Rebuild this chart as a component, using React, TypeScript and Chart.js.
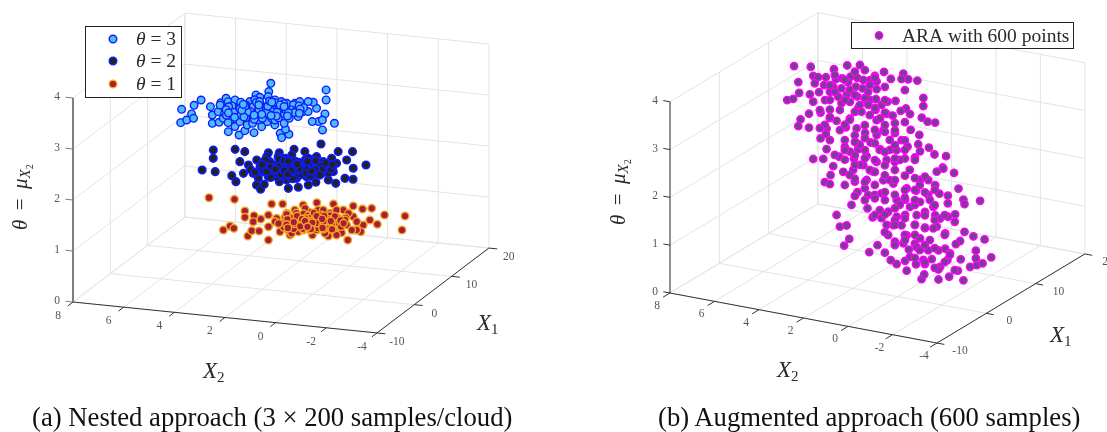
import React, { useEffect, useRef } from "react";
import { Chart, registerables } from "chart.js";

Chart.register(...registerables);

// Axis ticks
const x2Ticks = [8, 6, 4, 2, 0, -2, -4];
const x1Ticks = [-10, 0, 10, 20];
const thetaTicks = [0, 1, 2, 3, 4];

// theta = 3 cloud
const cloud3X2 = [6.04,5.79,5.79,5.46,5.37,5.48,5.21,5.16,4.98,5.0,4.71,4.33,4.14,3.39,2.86,2.86,2.45,2.08,1.51,1.26,1.16,1.51,4.13,3.82,1.9,1.44,.84,.08,.19,.71,.93,.65,1.39,1.78,1.99,
  4.77,4.61,4.23,4.02,4.11,3.87,3.61,3.22,2.66,2.37,2.28,4.44,4.04,4.17,3.79,3.31,3.67,3.27,2.86,3.22,2.75,2.41,2.55,2.14,2.35,1.65,1.7,1.53,4.66,4.18,3.86,3.39,3.45,3.04,2.93,2.88,2.46,2.49,2.49,1.83,1.88,
  4.9,3.8,3.53,3.07,2.89,2.92,2.21,2.0,4.17,4.0,3.59,2.7,4.44,3.81,3.28,2.3,
  4.52,4.31,4.08,3.93,3.71,3.48,3.34,3.12,2.93,2.71,2.52,2.28,2.11,1.87,4.37,4.03,3.76,3.42,3.18,2.82,2.58,2.24,1.96,4.21,3.63,3.02,2.43,3.97,3.36,2.74,
  4.47,4.25,3.98,3.83,3.68,3.52,3.23,3.05,2.81,2.64,2.38,2.18,1.92,1.76,3.9,3.25,2.6,2.05,4.12,3.55];
const cloud3X1 = [5.81,7.46,9.33,1.62,2.64,4.68,3.38,7.56,9.14,10.65,5.01,2.42,2.96,.33,-.36,1.17,.84,3.9,1.46,.16,1.43,2.89,16.75,14.1,16.43,13.31,8.92,6.3,3.85,6.33,6.12,6.95,10.41,12.18,12.23,
  9.68,10.42,9.59,10.37,12.64,12.04,12.52,11.69,11.02,11.28,11.96,7.03,5.63,7.87,7.04,5.12,8.92,7.52,6.12,9.92,7.99,7.11,9.35,7.95,10.71,7.23,8.95,9.11,6.25,4.32,4.02,2.11,3.82,3.02,3.71,4.92,2.95,4.69,5.86,4.7,6.42,
  8.38,5.84,7.27,8.28,9.87,11.38,9.07,9.26,8.7,9.2,10.17,6.85,8.45,3.12,6.32,5.45,
  8.1,9.9,6.5,11.1,6.9,9.1,8.2,10.9,7.4,9.3,8.6,6.2,10.6,10.2,6.0,7.8,10.4,5.2,9.5,5.6,7.9,7.6,8.4,5.4,7.1,6.8,6.7,8.9,11.2,10.8,
  7.1,6.2,8.8,5.0,10.7,5.4,10.9,5.0,10.3,6.7,8.9,8.2,9.6,8.3,7.4,6.3,9.9,7.1,9.3,9.6];

// theta = 2 cloud
const cloud2X2 = [4.88,4.35,5.41,5.03,4.68,4.24,3.95,3.59,3.17,2.3,1.96,2.06,1.66,1.04,.74,.5,.36,1.94,.99,.49,-.59,-.8,-.47,-.38,.03,-.3,.31,.91,3.37,2.99,2.63,2.15,1.49,
  3.5,3.44,2.83,2.91,2.27,2.48,2.53,1.82,1.96,1.24,1.76,1.2,1.26,.57,.77,.24,2.95,3.02,2.27,1.98,2.07,1.48,1.55,1.61,.94,.78,1.51,1.05,.51,3.29,3.25,2.85,2.45,2.46,1.96,1.64,1.72,.91,.34,2.54,1.21,3.0,2.19,1.23,1.46,2.63,1.73,2.19,
  3.21,3.08,2.76,2.64,2.58,2.39,2.33,2.22,2.12,2.03,1.91,1.86,1.78,1.69,1.57,1.44,1.38,1.31,1.14,1.09,.99,.86,.68,.62,2.97,2.71,2.52,2.31,2.1,1.9,1.66,1.41,1.19,.96,.72,.43,2.88,2.4,1.95,1.52,
  3.15,2.94,2.79,2.62,2.47,2.36,2.16,2.01,1.88,1.74,1.6,1.47,1.35,1.27,1.11,.97,.82,.69,.55,.41,2.72,2.29,1.83,1.33,.9,3.05,2.56,1.7,1.02,.6];
const cloud2X1 = [3.43,3.34,10.03,7.43,10.92,10.52,7.24,2.62,.88,.5,-.72,.94,2.26,.47,1.1,2.14,3.22,15.33,13.49,13.94,10.21,5.33,5.38,3.53,4.33,8.76,11.15,11.19,10.94,11.29,12.8,12.43,10.67,
  6.47,8.29,5.9,8.19,5.23,7.99,9.71,6.23,8.47,4.99,9.83,7.39,9.11,6.2,8.96,7.09,4.02,6.32,3.46,3.73,6.59,3.0,5.3,7.02,4.68,5.41,11.24,9.89,9.79,3.71,9.65,10.02,10.96,5.65,4.93,8.16,10.45,7.65,6.41,2.62,3.84,7.52,8.26,6.19,9.52,7.26,6.91,6.49,
  5.1,7.0,6.9,4.8,8.9,5.0,9.4,7.1,4.7,9.1,7.6,5.4,4.1,9.0,7.4,5.6,8.3,4.4,6.6,8.8,7.7,5.9,8.0,6.7,6.1,9.3,6.3,4.2,7.7,5.8,6.2,7.8,5.2,8.6,7.4,8.2,4.4,7.0,4.6,6.9,
  8.6,4.4,7.7,6.5,9.0,6.0,3.3,5.9,8.9,6.1,9.4,4.0,9.9,6.9,5.7,7.3,4.9,9.2,5.6,7.7,5.2,8.9,8.3,3.6,9.5,7.1,4.9,4.8,6.5,9.3];

// theta = 1 cloud
const cloud1X2 = [5.71,4.75,3.85,3.56,3.32,3.07,2.93,2.85,2.31,3.73,3.68,3.44,2.6,2.71,2.44,1.7,3.24,2.86,2.1,1.73,1.09,.31,-.15,-.44,-1.19,-1.37,-.91,-.91,-1.13,-1.06,-.2,-.51,.4,1.18,-1.95,-2.49,
  2.41,1.93,2.29,1.47,1.75,2.16,1.04,1.61,1.12,1.61,1.12,.48,1.34,.85,.36,.78,-.1,.27,.47,-.33,-.18,-.91,1.72,1.79,.95,1.29,.85,1.17,.04,.34,.71,-.1,.14,2.07,1.68,1.2,1.37,.71,.52,.69,1.29,1.88,1.39,-.44,-.74,-.53,
  2.32,2.18,2.04,1.97,1.85,1.76,1.68,1.59,1.52,1.44,1.33,1.26,1.17,1.08,1.01,.92,.83,.74,.66,.58,.51,.42,.31,.22,.12,.03,-.08,-.21,1.9,1.55,1.23,.88,.61,.29,1.41,1.02,.77,.49,.18,-.04,
  2.25,2.11,1.99,1.81,1.64,1.49,1.36,1.22,1.12,.97,.87,.73,.63,.47,.37,.25,.09,-.02,-.15,1.78,1.3,.8,.4,1.58,.95];
const cloud1X1 = [10.92,11.22,7.91,5.94,6.75,4.85,5.92,7.41,3.77,1.3,2.76,2.16,.2,1.99,2.12,-.39,10.94,11.29,11.63,12.79,12.9,12.91,12.27,12.77,11.11,7.97,9.08,7.31,5.15,2.13,2.77,4.23,2.57,1.86,11.44,6.98,
  6.64,4.72,8.51,3.37,6.65,9.81,3.17,7.95,5.46,9.71,7.23,4.27,10.55,8.07,6.15,9.89,4.8,8.6,11.35,6.78,9.59,5.54,5.5,7.79,3.84,7.07,6.3,10.71,3.49,7.34,11.13,6.57,10.48,6.58,2.58,2.43,5.82,4.06,5.41,8.8,8.84,10.65,4.62,3.34,5.38,8.14,
  5.6,7.4,4.9,8.9,6.1,4.1,8.9,5.0,6.6,8.5,3.9,7.9,5.2,6.8,9.1,4.6,7.6,5.6,9.2,6.9,4.9,8.2,6.3,7.7,5.3,9.0,7.6,6.1,7.2,5.5,6.1,5.6,8.0,4.8,7.5,4.2,6.5,5.9,7.1,8.3,
  8.2,5.1,6.7,8.0,6.0,7.2,9.5,4.9,8.6,6.4,8.9,4.4,7.2,9.1,5.1,6.8,8.0,5.0,7.2,5.0,6.7,7.9,7.5,4.0,5.0];

// ARA cloud. Its depth along X1 cannot be read from a single 2D view, so it is held at one estimate.
const araX1Estimate = 7;
const araX2 = [6.19,5.44,4.40,3.80,3.23,5.33,5.11,4.76,4.31,4.03,3.65,3.35,3.08,2.78,2.56,2.15,2.48,1.84,1.28,1.36,1.06,.65,6.0,5.26,4.84,4.43,3.76,3.41,3.11,2.86,2.48,2.11,1.21,5.96,6.5,6.23,5.48,5.33,5.07,4.8,4.58,4.06,4.21,3.83,3.35,3.0,2.78,2.51,2.26,1.99,1.63,.38,.38,1.16,1.4,.98,.45,.19,-.15,4.58,5.0,5.52,5.9,6.0,5.52,4.58,4.28,4.06,3.68,3.31,2.86,2.53,2.03,1.76,1.21,3.68,3.16,2.48,2.33,4.73,4.76,5.0,3.86,3.38,3.0,2.48,2.18,1.66,1.66,1.36,.95,.56,2.75,3.38,3.91,3.31,3.68,4.73,5.33,4.88,4.16,4.43,3.5,2.93,2.33,1.88,1.58,1.09,.61,.53,.13,-.12,-.64,-.49,1.21,.76,2.03,1.66,2.48,3.08,
  4.55,4.81,4.58,3.98,3.46,3.01,3.34,2.86,2.56,2.26,3.61,2.89,4.28,4.13,3.83,2.66,3.71,3.94,2.81,2.44,2.11,1.85,1.58,1.13,.46,.34,-.3,-.78,-1.17,-1.42,-1.72,-2.02,-2.28,-2.67,-1.98,-1.98,-2.37,-1.87,-1.47,-1.27,-1.08,-2.17,-1.42,-1.47,-1.2,-1.0,-.72,-.72,-1.05,-.72,-.52,-.22,.16,-.15,-.34,.16,.71,.53,1.13,1.73,2.18,2.63,2.93,3.23,3.53,1.58,1.2,.98,.53,-.07,.31,-.15,-.37,-.22,-.6,-.07,.31,.76,.68,1.2,1.58,1.96,2.26,2.03,1.73,1.36,1.96,1.66,1.28,1.13,.76,.53,1.03,.68,.16,-.3,-.6,-.82,0,.38,.71,1.2,.98,.31,-.37,-.7,-.3,-1.3,
  4.13,3.69,3.24,2.79,3.46,2.56,2.11,3.91,3.01,2.34,1.66,3.46,2.79,2.11,1.44,.99,2.56,1.89,1.21,.54,2.11,1.44,.76,.09,1.66,.76,-.13,.09,-.58,-.81,3.69,2.79,4.13,4.81,3.24,2.56,1.89,1.21,3.69,1.66,2.34,.31,1.21,.54,3.01,1.66,.76,
  5.03,5.03,4.58,4.58,4.58,4.58,4.36,4.36,4.36,3.91,3.91,3.91,3.91,3.91,3.91,3.46,3.46,3.46,3.46,3.46,3.46,3.46,3.01,3.01,3.01,3.01,3.01,3.01,2.56,2.56,2.56,2.56,2.56,2.56,2.11,2.11,2.11,2.11,2.11,2.11,2.11,2.11,1.66,1.66,1.66,1.66,1.66,1.66,1.21,1.21,1.21,1.21,1.21,.76,.76,.76,.76,.76,.31,.31,.31,.31,.31,-.13,-.13,-.13,-.13,-.58,-.58,-1.03,-1.03];
const araTheta = [3.85,3.90,3.94,4.07,4.13,3.72,3.71,3.74,3.74,3.78,3.85,3.85,3.83,3.85,3.96,4.08,3.85,3.96,4.12,4.0,4.02,4.03,3.53,3.57,3.57,3.57,3.72,3.66,3.65,3.60,3.69,3.77,3.78,3.31,3.11,3.16,3.32,3.18,3.40,3.26,3.45,3.57,3.38,3.45,3.46,3.43,3.44,3.48,3.38,3.47,3.52,3.69,3.52,3.40,3.33,3.30,3.27,3.21,3.22,3.08,2.98,2.91,2.76,2.61,2.62,2.90,2.87,3.26,3.32,3.22,3.33,3.25,3.21,3.20,3.11,2.97,3.16,3.04,3.09,2.67,2.55,2.44,2.77,2.79,2.73,2.73,2.85,3.05,2.84,2.72,2.97,2.90,2.55,2.48,2.36,2.36,2.28,2.24,1.98,2.02,2.13,1.91,2.15,2.25,2.45,2.47,2.49,2.61,2.70,2.56,2.67,2.55,2.56,2.31,2.35,2.41,2.25,2.24,2.17,2.05,
  1.71,1.54,1.52,1.83,1.67,1.57,1.46,1.44,1.47,1.53,1.17,1.16,.90,.67,.72,.99,.45,.29,.25,.43,.30,.17,.11,.01,-.11,0,-.05,.05,.21,.03,.34,.40,.46,.62,.70,.54,.97,.99,1.05,.84,.76,1.76,1.72,1.63,1.93,2.24,1.74,1.58,1.38,1.30,2.29,2.20,1.99,1.91,1.75,1.68,1.72,1.96,1.73,1.78,1.81,1.95,1.75,2.04,1.91,1.45,1.49,1.36,1.50,1.45,1.31,1.28,1.23,1.05,.94,1.0,.97,1.0,1.21,1.17,1.10,1.17,1.01,.89,.91,.94,.68,.57,.57,.75,.61,.74,.46,.54,.52,.56,.62,.54,.35,.30,.18,.21,.31,.22,.22,.39,.16,.46,
  3.11,2.94,3.29,3.12,2.64,2.83,2.97,2.29,2.37,2.43,2.59,2.02,1.97,2.13,2.3,2.13,1.68,1.84,1.69,1.85,1.40,1.36,1.42,1.58,1.02,1.0,1.18,.74,.91,.51,3.57,3.75,2.69,2.74,2.46,2.20,2.68,2.53,1.79,1.55,1.17,1.24,.75,.49,2.89,2.07,1.73,
  3.03,2.65,3.59,3.28,2.92,2.44,3.82,3.47,2.15,3.76,3.34,2.82,2.50,2.09,1.56,3.97,3.48,3.13,2.50,2.22,1.73,1.37,4.04,3.46,2.62,2.20,1.70,1.32,3.92,3.29,2.55,1.95,1.40,1.05,3.49,3.23,2.83,2.41,1.92,1.57,1.10,.73,2.90,2.31,1.86,1.27,.92,.50,2.73,1.99,1.53,1.10,.64,2.36,1.98,1.52,.79,.31,2.05,1.72,.98,.62,.26,1.81,1.49,.59,.18,1.32,.34,1.22,.21];

type Geo = { ox: number; oy: number; px: number; py: number; qx: number; qy: number; ty: number };
const leftGeo: Geo = { ox: 73, oy: 302, px: 25.33, py: 2.58, qx: 3.73, qy: 2.83, ty: 51 };
const rightGeo: Geo = { ox: 670, oy: 293, px: 22.25, py: 4.17, qx: 4.93, qy: 2.97, ty: 47.8 };

const project = (g: Geo, x1: number, x2: number, th: number) => ({
  x: g.ox + (8 - x2) * g.px + (x1 + 10) * g.qx,
  y: g.oy + (8 - x2) * g.py - (x1 + 10) * g.qy - th * g.ty,
});

const line = (pts: { x: number; y: number }[], color: string, width: number, order: number) => ({
  type: "scatter" as const,
  data: pts,
  showLine: true,
  borderColor: color,
  borderWidth: width,
  pointRadius: 0,
  order,
});

function frame(g: Geo, thetaColor: string, thetaWidth: number) {
  const out: any[] = [];
  const grid = "#e3e3e3";
  const x1a = x1Ticks[0], x1b = x1Ticks[x1Ticks.length - 1];
  const x2a = x2Ticks[0], x2b = x2Ticks[x2Ticks.length - 1];
  const ta = thetaTicks[0], tb = thetaTicks[thetaTicks.length - 1];
  for (const v of x2Ticks) {
    out.push(line([project(g, x1a, v, 0), project(g, x1b, v, 0), project(g, x1b, v, tb)], grid, 1, 20));
  }
  for (const v of x1Ticks) {
    out.push(line([project(g, v, x2b, 0), project(g, v, x2a, 0), project(g, v, x2a, tb)], grid, 1, 20));
  }
  for (const v of thetaTicks) {
    out.push(line([project(g, x1a, x2a, v), project(g, x1b, x2a, v), project(g, x1b, x2b, v)], grid, 1, 20));
  }
  const dark = "#333333";
  out.push(line([project(g, x1a, x2a, 0), project(g, x1a, x2b, 0)], dark, 1, 10));
  out.push(line([project(g, x1a, x2b, 0), project(g, x1b, x2b, 0)], dark, 1, 10));
  out.push(line([project(g, x1a, x2a, ta), project(g, x1a, x2a, tb)], thetaColor, thetaWidth, 10));
  for (const v of x2Ticks) out.push(line([project(g, x1a, v, 0), project(g, x1a - 1.4, v, 0)], dark, 1, 10));
  for (const v of x1Ticks) out.push(line([project(g, v, x2b, 0), project(g, v, x2b - 0.33, 0)], dark, 1, 10));
  for (const v of thetaTicks) out.push(line([project(g, x1a, x2a, v), project(g, x1a, x2a + 0.3, v)], thetaColor, 1, 10));
  return out;
}

const cloud = (g: Geo, xs1: number[], xs2: number[], ths: number[] | number, fill: string, edge: string, order: number, label: string, r: number, lw: number) => ({
  type: "scatter" as const,
  label,
  data: xs2.map((v, i) => project(g, xs1[i], v, typeof ths === "number" ? ths : ths[i])),
  backgroundColor: fill,
  borderColor: edge,
  borderWidth: lw,
  pointRadius: r,
  order,
});

type Seg = { t: string; it?: boolean; size: number; dy?: number };
const SERIF = '"Liberation Serif"';
function drawMath(ctx: CanvasRenderingContext2D, x: number, y: number, segs: Seg[]) {
  let cx = x;
  for (const s of segs) {
    ctx.font = `${s.it ? "italic " : ""}${s.size}px ${SERIF}`;
    ctx.fillText(s.t, cx, y + (s.dy || 0));
    cx += ctx.measureText(s.t).width;
  }
}

function marker(ctx: CanvasRenderingContext2D, x: number, y: number, fill: string, edge: string, r: number, lw: number) {
  ctx.beginPath();
  ctx.arc(x, y, r, 0, Math.PI * 2);
  ctx.fillStyle = fill;
  ctx.fill();
  ctx.lineWidth = lw;
  ctx.strokeStyle = edge;
  ctx.stroke();
}

const BLUE = "#0f1cff";
const colors = {
  t3: ["#4dbcf5", BLUE],
  t2: ["#222222", BLUE],
  t1: ["#a81e3a", "#f4a61c"],
  ara: ["#74408f", "#ff00ff"],
};

function decorations(g: Geo, opts: {
  x2Off: [number, number]; x1Off: [number, number]; thX: number;
  x2Title: [number, number]; x1Title: [number, number]; thTitle: [number, number];
  legend: (ctx: CanvasRenderingContext2D) => void;
}) {
  return {
    id: "decor",
    afterDatasetsDraw(chart: any) {
      const ctx: CanvasRenderingContext2D = chart.ctx;
      const sx = chart.scales.x, sy = chart.scales.y;
      ctx.save();
      ctx.fillStyle = "#555555";
      ctx.font = `11.5px ${SERIF}`;
      ctx.textAlign = "center";
      ctx.textBaseline = "middle";
      for (const v of x2Ticks) {
        const p = project(g, x1Ticks[0], v, 0);
        ctx.fillText(String(v), sx.getPixelForValue(p.x) + opts.x2Off[0], sy.getPixelForValue(p.y) + opts.x2Off[1]);
      }
      for (const v of x1Ticks) {
        const p = project(g, v, x2Ticks[x2Ticks.length - 1], 0);
        ctx.fillText(String(v), sx.getPixelForValue(p.x) + opts.x1Off[0], sy.getPixelForValue(p.y) + opts.x1Off[1]);
      }
      for (const v of thetaTicks) {
        const p = project(g, x1Ticks[0], x2Ticks[0], v);
        ctx.fillText(String(v), sx.getPixelForValue(opts.thX), sy.getPixelForValue(p.y) - 1);
      }
      ctx.textAlign = "left";
      ctx.textBaseline = "alphabetic";
      ctx.fillStyle = "#2a2a2a";
      drawMath(ctx, sx.getPixelForValue(opts.x2Title[0]), opts.x2Title[1], [{ t: "X", it: true, size: 23 }, { t: "2", size: 15, dy: 4 }]);
      drawMath(ctx, sx.getPixelForValue(opts.x1Title[0]), opts.x1Title[1], [{ t: "X", it: true, size: 23 }, { t: "1", size: 15, dy: 4 }]);
      ctx.save();
      ctx.translate(sx.getPixelForValue(opts.thTitle[0]), opts.thTitle[1]);
      ctx.rotate(-Math.PI / 2);
      drawMath(ctx, 0, 0, [
        { t: "θ", it: true, size: 21 },
        { t: " \u2009=\u2009 ", size: 21 },
        { t: "μ", it: true, size: 21 },
        { t: "X", it: true, size: 15, dy: 3 },
        { t: "2", size: 10, dy: 6 },
      ]);
      ctx.restore();
      opts.legend(ctx);
      ctx.restore();
    },
  };
}

const leftLegend = (ctx: CanvasRenderingContext2D) => {
  ctx.fillStyle = "#ffffff";
  ctx.fillRect(85.5, 26.5, 96, 71);
  ctx.strokeStyle = "#222222";
  ctx.lineWidth = 1;
  ctx.strokeRect(85.5, 26.5, 96, 71);
  const rows: [string, string[], number][] = [["3", colors.t3, 39], ["2", colors.t2, 61], ["1", colors.t1, 84]];
  for (const [v, c, y] of rows) {
    marker(ctx, 113, y, c[0], c[1], 3.8, 1.4);
    ctx.fillStyle = "#2a2a2a";
    drawMath(ctx, 136, y + 6, [{ t: "θ", it: true, size: 19.5 }, { t: " = " + v, size: 19.5 }]);
  }
};

const rightLegend = (ctx: CanvasRenderingContext2D) => {
  ctx.fillStyle = "#ffffff";
  ctx.fillRect(298.5, 22.5, 222, 26);
  ctx.strokeStyle = "#222222";
  ctx.lineWidth = 1;
  ctx.strokeRect(298.5, 22.5, 222, 26);
  marker(ctx, 326, 35.5, colors.ara[0], colors.ara[1], 3.7, 1.4);
  ctx.fillStyle = "#2a2a2a";
  ctx.font = `19.5px ${SERIF}`;
  ctx.fillText("ARA with 600 points", 349, 41.5);
};

function makeOptions(xmin: number, xmax: number): any {
  return {
    animation: false,
    responsive: false,
    events: [],
    layout: { padding: 0, autoPadding: false },
    plugins: { legend: { display: false }, tooltip: { enabled: false } },
    scales: {
      x: { type: "linear", min: xmin, max: xmax, display: false },
      y: { type: "linear", min: 0, max: 432, reverse: true, display: false },
    },
  };
}

export default function App() {
  const leftRef = useRef<HTMLCanvasElement>(null);
  const rightRef = useRef<HTMLCanvasElement>(null);
  useEffect(() => {
    const left = new Chart(leftRef.current!, {
      type: "scatter",
      data: {
        datasets: [
          cloud(leftGeo, cloud3X1, cloud3X2, 3, colors.t3[0], colors.t3[1], 1, "θ = 3", 3.8, 1.4),
          cloud(leftGeo, cloud2X1, cloud2X2, 2, colors.t2[0], colors.t2[1], 2, "θ = 2", 3.8, 1.5),
          cloud(leftGeo, cloud1X1, cloud1X2, 1, colors.t1[0], colors.t1[1], 3, "θ = 1", 3.8, 1.4),
          ...frame(leftGeo, "#7f7f7f", 2),
        ],
      },
      options: makeOptions(0, 553),
      plugins: [decorations(leftGeo, {
        x2Off: [-15, 14], x1Off: [20, 9], thX: 57,
        x2Title: [203, 378], x1Title: [477, 330], thTitle: [27, 230],
        legend: leftLegend,
      })],
    } as any);
    const right = new Chart(rightRef.current!, {
      type: "scatter",
      data: {
        datasets: [
          cloud(rightGeo, araX2.map(() => araX1Estimate), araX2, araTheta, colors.ara[0], colors.ara[1], 1, "ARA with 600 points", 3.7, 1.4),
          ...frame(rightGeo, "#333333", 1),
        ],
      },
      options: makeOptions(553, 1107),
      plugins: [decorations(rightGeo, {
        x2Off: [-13, 13], x1Off: [23, 8], thX: 655,
        x2Title: [777, 377], x1Title: [1050, 342], thTitle: [625, 225],
        legend: rightLegend,
      })],
    } as any);
    return () => {
      left.destroy();
      right.destroy();
    };
  }, []);

  const caption: React.CSSProperties = {
    position: "absolute",
    top: 402,
    fontFamily: SERIF,
    fontSize: 26.7,
    lineHeight: "30px",
    color: "#111",
    whiteSpace: "nowrap",
  };
  return (
    <div style={{ position: "fixed", left: 0, top: 0, width: 1107, height: 432, overflow: "hidden", background: "#fff" }}>
      <canvas ref={leftRef} width={553} height={432} style={{ position: "absolute", left: 0, top: 0 }} />
      <canvas ref={rightRef} width={554} height={432} style={{ position: "absolute", left: 553, top: 0 }} />
      <div style={{ ...caption, left: 32 }}>(a) Nested approach (3 × 200 samples/cloud)</div>
      <div style={{ ...caption, left: 658 }}>(b) Augmented approach (600 samples)</div>
    </div>
  );
}
